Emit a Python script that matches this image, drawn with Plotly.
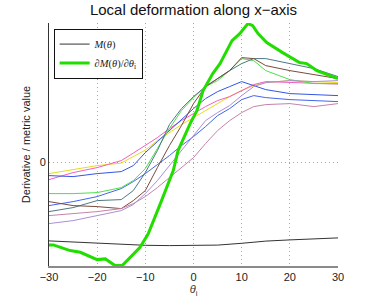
import plotly.graph_objects as go

theta = [-30, -25, -20, -15, -12.5, -10, -7.5, -5, -2.5, 0, 2.5, 5, 7.5, 10, 12.5, 15, 20, 25, 30]

yellow = [-11, -7, -3, -0.5, 6, 12.5, 22, 30, 38, 45, 52, 59, 66, 72, 77, 80, 82, 81, 80]
pink = [-17, -10, -5, 2, 9.5, 17, 25, 34, 42, 49, 56, 62, 66, 72, 78, 81, 80, 79.5, 78.5]
blue_a = [-13, -14, -11, -9, -3, 10, 21, 32, 44, 54, 64, 71, 76, 81, 77, 73, 69, 68, 67]
blue_b = [-43, -39, -34, -26, -19, -11, -2, 7, 17, 26, 36, 47, 54, 63, 67, 65, 63, 62, 61]
green_thin = [-31, -31, -30, -25, -18, -6, 14, 34, 52, 65, 76, 82, 92, 104, 102, 92, 83, 79, 79]
teal = [-49, -45, -38, -37, -28, -10, 12, 38, 54, 66, 76, 84, 92, 99, 104, 104, 99, 94, 86]
brown = [-39, -43, -44, -46, -38, -28, -5, 17, 37, 59, 76, 84, 92, 105, 104, 97, 92, 88, 84]
mauve = [-53, -51, -49, -46, -41, -34, -25, -15, -5, 5, 19, 32, 42, 50, 56, 58, 59, 56, 59]
lavender = [-61, -58, -53, -48, -42, -31, -18, -3, 12, 28, 42, 50, 57, 67, 76, 80, 82, 81, 82]

theta_m = [-30, -20, -10, -5, 0, 5, 10, 15, 20, 25, 30]
metric = [-78.3, -80.7, -82.7, -83, -83, -82.5, -80.7, -78.5, -77.3, -76, -75.3]

theta_d = [-30, -29.1, -25.6, -23.5, -20.0, -18.3, -16.3, -14.8, -11.1, -9.4, -6.9, -4.2, -3.2,
           -0.7, 0.7, 2.0, 4.0, 5.5, 8.0, 9.6, 11.3, 12.3, 13.4, 15.2, 18.5, 22.0, 23.5, 25.6, 30]
deriv = [-82.3, -82.3, -88, -89.7, -97, -96.3, -103, -103, -84.7, -71.3, -41.3, -8, 12,
         39, 52, 72, 89, 99, 122, 129, 139, 137, 129, 120, 110, 100, 99, 92, 84]

x_ticks = [-30, -20, -10, 0, 10, 20, 30]
x_tick_labels = ["\u221230", "\u221220", "\u221210", "0", "10", "20", "30"]
y_ticks = [0]
y_tick_labels = ["0"]

thin_series = [
    (yellow, "#e6dc1e"),
    (pink, "#f25fc0"),
    (blue_a, "#3355e6"),
    (blue_b, "#4466ee"),
    (green_thin, "#4ede4e"),
    (teal, "#4f7884"),
    (brown, "#7a4b3c"),
    (mauve, "#c484a8"),
    (lavender, "#aa90d4"),
]

fig = go.Figure()
for vals, col in thin_series:
    fig.add_trace(go.Scatter(x=theta, y=vals, mode="lines", line=dict(color=col, width=1),
                             showlegend=False, hoverinfo="skip"))

fig.add_trace(go.Scatter(x=theta_m, y=metric, mode="lines", line=dict(color="#333333", width=1),
                         name="<i>M</i>(<i>\u03b8</i>)"))
fig.add_trace(go.Scatter(x=theta_d, y=deriv, mode="lines", line=dict(color="#22dd00", width=3),
                         name="\u2202<i>M</i>(<i>\u03b8</i>)/\u2202<i>\u03b8</i><sub>i</sub>"))

fig.update_layout(
    width=374, height=299,
    margin=dict(l=49, r=36, t=23, b=33),
    paper_bgcolor="white", plot_bgcolor="white",
    font=dict(family="Liberation Sans, Arial, sans-serif", size=11, color="#222"),
    title=dict(text="Local deformation along x\u2212axis", x=0.5, xref="paper", y=0.966,
               yanchor="middle", font=dict(size=15, color="#111")),
    legend=dict(x=0.016, y=0.977, xanchor="left", yanchor="top", bgcolor="white",
                bordercolor="#111", borderwidth=1,
                font=dict(family="Liberation Serif, Times New Roman, serif", size=10.5, color="#222"),
                tracegroupgap=0, itemwidth=30),
    showlegend=True,
)
fig.update_xaxes(range=[-30, 30], tickvals=x_ticks, ticktext=x_tick_labels, automargin=False,
                 showgrid=True, gridcolor="#a8a8a8", griddash="1px,3px", gridwidth=1,
                 showline=True, linecolor="#8a8a8a", linewidth=2, ticks="",
                 zeroline=False,
                 title=dict(text="<i>\u03b8</i><sub>i</sub>", standoff=0, font=dict(size=11, color="#333")))
fig.update_yaxes(range=[-103.4, 139.6], tickvals=y_ticks, ticktext=y_tick_labels, automargin=False,
                 showgrid=True, gridcolor="#a8a8a8", griddash="1px,3px", gridwidth=1,
                 showline=True, linecolor="#333", linewidth=1, ticks="", zeroline=False,
                 title=dict(text="Derivative / metric value", standoff=6, font=dict(size=11, color="#222")))

fig.write_html("out.html", config={"displayModeBar": False},
               post_script="document.body.style.margin='0';document.body.style.overflow='hidden';")
